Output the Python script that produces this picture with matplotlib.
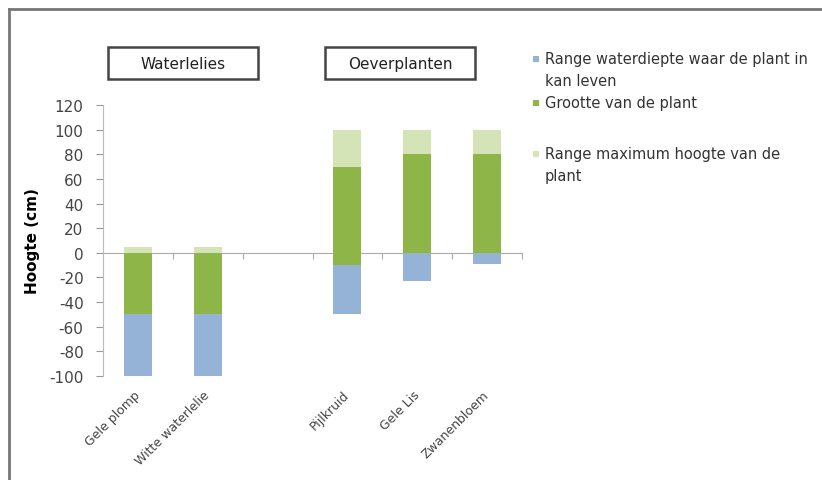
import matplotlib
matplotlib.use("Agg")
import matplotlib.pyplot as plt
from matplotlib.patches import Rectangle
from matplotlib.lines import Line2D

plt.rcParams['font.family'] = ['DejaVu Sans']
plt.rcParams['axes.unicode_minus'] = False

# plants (empty slot separates the two groups)
plants = ["Gele plomp", "Witte waterlelie", "", "Pijlkruid", "Gele Lis", "Zwanenbloem"]
# range water depth: bottom and top (cm)
depth_low = [-100, -100, 0, -50, -23, -9]
depth_high = [-50, -50, 0, -10, 0, 0]
# plant size: bottom and top (cm)
size_low = [-50, -50, 0, -10, 0, 0]
size_high = [0, 0, 0, 70, 80, 80]
# range max height: top (cm)
max_high = [5, 5, 0, 100, 100, 100]

groups = ["Waterlelies", "Oeverplanten"]
legend_labels = ["Range waterdiepte waar de plant in\nkan leven",
                 "Grootte van de plant",
                 "Range maximum hoogte van de\nplant"]
colors = ["#95b3d7", "#8db548", "#d4e4b6"]

W, H = 822, 481
fig = plt.figure(figsize=(8.22, 4.81), dpi=100)
ax = fig.add_axes([103 / W, 1 - 377 / H, 419 / W, 271 / H])

x = list(range(len(plants)))
ax.bar(x, [h - l for l, h in zip(depth_low, depth_high)], bottom=depth_low,
       width=0.4, color=colors[0])
ax.bar(x, [h - l for l, h in zip(size_low, size_high)], bottom=size_low,
       width=0.4, color=colors[1])
ax.bar(x, [m - h for h, m in zip(size_high, max_high)], bottom=size_high,
       width=0.4, color=colors[2])

ax.set_xlim(-0.5, len(plants) - 0.5)
ax.set_ylim(-100, 120)
ax.set_yticks(range(-100, 121, 20))
ax.tick_params(axis='y', labelsize=11, colors='#999999', labelcolor='#444444',
               length=5, direction='out', pad=9)
ax.set_xticks(x)
ax.set_xticklabels(plants, rotation=45, ha='right', va='center',
                   rotation_mode='anchor', fontsize=9, color='#444444')
ax.tick_params(axis='x', length=0, pad=12)
for s in ['top', 'right', 'bottom']:
    ax.spines[s].set_visible(False)
ax.spines['left'].set_color('#bbbbbb')

# zero axis with category tick marks
zero = ax.secondary_xaxis(100 / 220)
zero.set_xticks([i + 0.5 for i in x])
zero.tick_params(axis='x', length=4, direction='out', labelbottom=False,
                 labeltop=False, colors='#aaaaaa')
zero.spines['bottom'].set_color('#aaaaaa')
zero.spines['top'].set_color('#aaaaaa')

ax.set_ylabel("Hoogte (cm)", fontsize=11, fontweight='bold')
ax.yaxis.set_label_coords(-(103 - 40) / 419, 0.5)

# group titles in boxes
for label, x0 in zip(groups, [108, 325]):
    fig.add_artist(Rectangle((x0 / W, 1 - 80 / H), 150 / W, 32 / H,
                             transform=fig.transFigure, fc='white',
                             ec='#444444', lw=1.8))
    fig.text((x0 + 75) / W, 1 - 65 / H, label, ha='center', va='center',
             fontsize=11, color='#222222')

# legend drawn by hand so each marker sits at the first line of its label
for label, c, yl in zip(legend_labels, colors, [60, 104, 155]):
    fig.add_artist(Rectangle((533 / W, 1 - (yl + 3) / H), 6 / W, 6 / H,
                             transform=fig.transFigure, fc=c, ec='none'))
    fig.text(545 / W, 1 - (yl - 8) / H, label, ha='left', va='top',
             fontsize=10.5, color='#333333', linespacing=1.62)

# outer border (top and left only visible)
fig.add_artist(Line2D([9 / W, 1], [1 - 10 / H] * 2, color='#777777', lw=2))
fig.add_artist(Line2D([9 / W] * 2, [1 - 10 / H, 0], color='#777777', lw=2))

fig.savefig("out.png", dpi=100)
